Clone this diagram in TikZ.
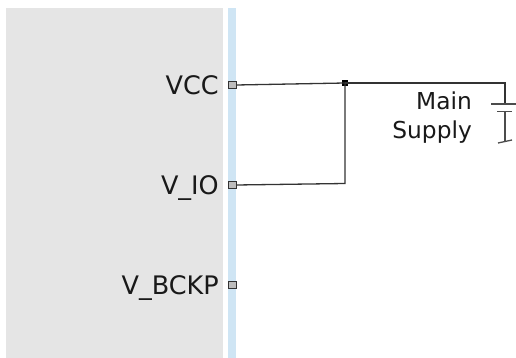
\documentclass[tikz,border=0pt]{standalone}
\usepackage{fontspec}
\setmainfont{DejaVu Sans}
\definecolor{panelgrey}{HTML}{E5E5E5}
\definecolor{barblue}{HTML}{CFE5F4}
\definecolor{pingrey}{HTML}{BDBDBD}
\definecolor{wire}{HTML}{333333}
\tikzset{
  pin/.style={draw=wire,fill=pingrey,line width=1.1pt,minimum size=7.5pt,inner sep=0pt,outer sep=0pt},
  pinlabel/.style={anchor=base east,inner sep=0pt,font=\fontsize{25.5}{25.5}\selectfont,text=black!90},
  supply/.style={anchor=base east,inner sep=0pt,font=\fontsize{23.3}{23.3}\selectfont,text=black!90},
  wireline/.style={draw=wire,line width=1.3pt},
  platewire/.style={draw=black!70,line width=1.3pt}
}
\begin{document}
\begin{tikzpicture}[x=1pt,y=-1pt]
\useasboundingbox (0,0) rectangle (516,358);
\fill[white] (0,0) rectangle (516,358);
\fill[panelgrey] (6,8) rectangle (223,358);
\fill[barblue] (228,8) rectangle (236,358);
\node[pin] (vcc) at (232.5,85) {};
\node[pin] (vio) at (232.5,185) {};
\node[pin] (vb) at (232.5,285) {};
\node[pinlabel] (lvcc) at (219,94.5) {VCC};
\node[pinlabel] (lvio) at (219,194.5) {V\_IO};
\node[pinlabel] (lvb) at (219,294.5) {V\_BCKP};
\node[supply] (m) at (472,109.5) {Main};
\node[supply] (s) at (472,139) {Supply};
\node[fill=black,minimum size=6pt,inner sep=0pt] (j) at (345,83) {};
\coordinate (top) at (505,83);
\coordinate (p1) at (505,104);
\coordinate (p2a) at (497,111.5);
\coordinate (p2b) at (512,111.5);
\coordinate (p2) at (505,111.5);
\coordinate (t) at (505,141);
\coordinate (c) at (345,183.5);
\coordinate (plateL) at (491,104);
\coordinate (plateR) at (516,104);
\coordinate (tailL) at (498,143);
\coordinate (tailR) at (512,140);
\draw[wireline] (vcc.east) -- (j.center);
\draw[wireline] (j.center) -- (top) -- (p1);
\draw[wireline] (vio.east) -- (c) -- (j.center);
\draw[platewire] (plateL) -- (plateR);
\draw[platewire] (p2a) -- (p2b);
\draw[platewire] (p2) -- (t);
\draw[platewire] (tailL) -- (tailR);
\end{tikzpicture}
\end{document}
